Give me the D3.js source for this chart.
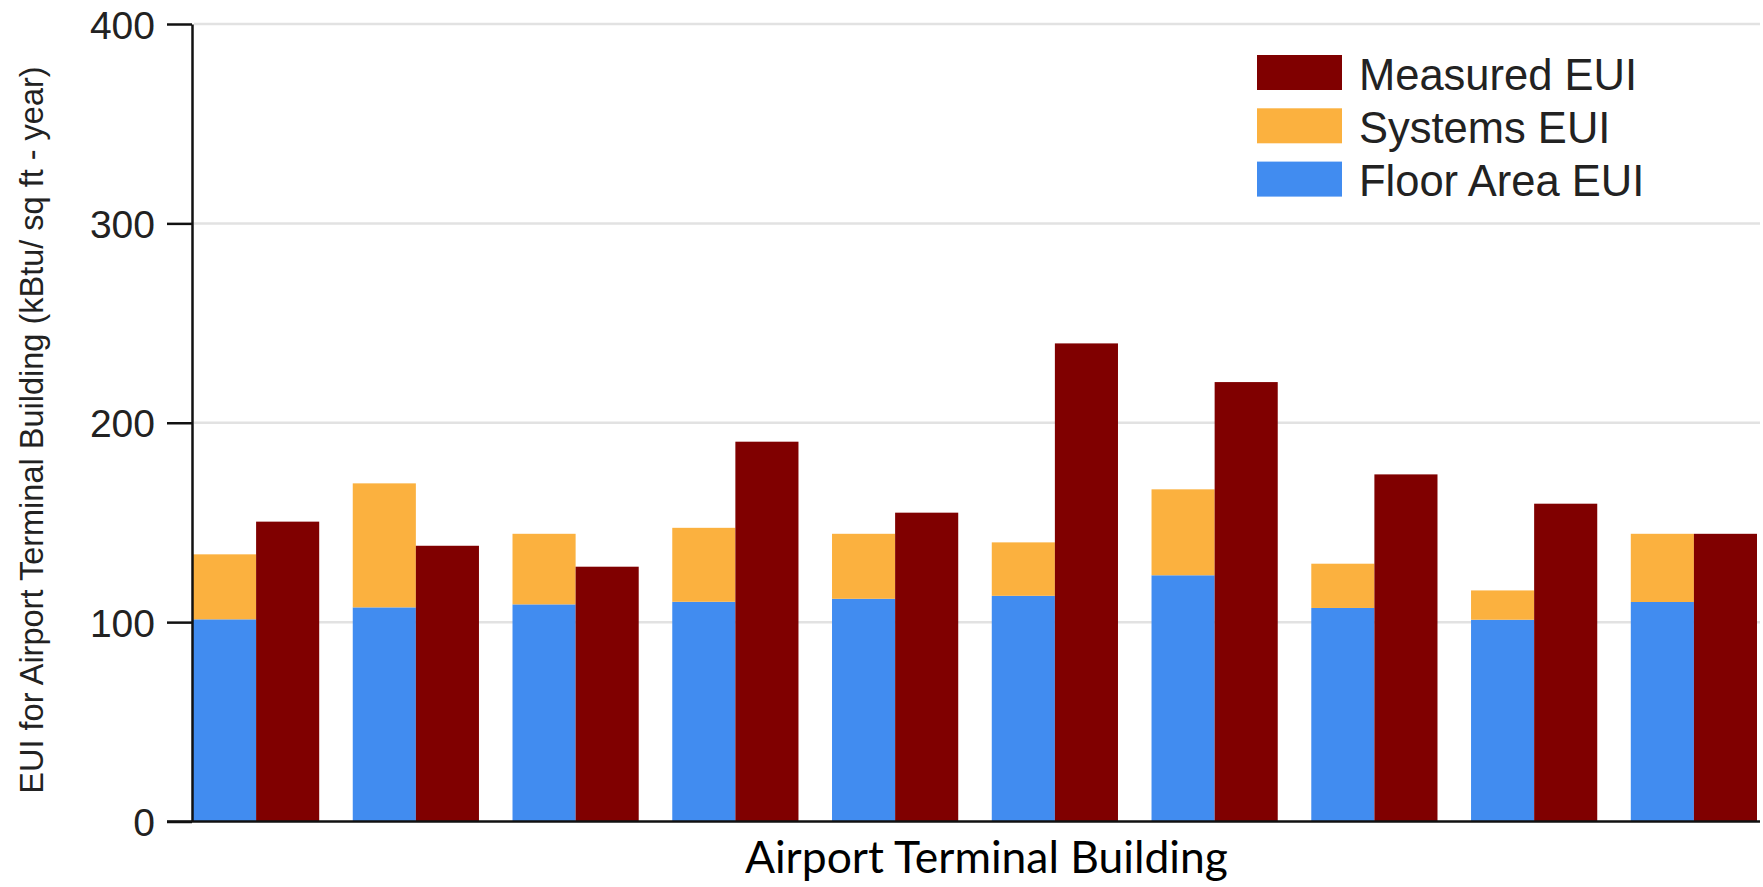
<!DOCTYPE html>
<html><head><meta charset="utf-8">
<script src="https://cdn.jsdelivr.net/npm/d3@7"></script>
<style>body{margin:0;background:#fff} svg{display:block}</style>
</head><body><svg id="c" width="1763" height="887"></svg>
<script>
// ---- data ----
const categories = ["B1","B2","B3","B4","B5","B6","B7","B8","B9","B10"];
const floorAreaEUI = [101.4, 107.4, 108.9, 110.2, 111.7, 113.2, 123.5, 107.1, 101.2, 110.1];
const systemsEUI   = [32.6, 62.2, 35.4, 37.1, 32.6, 26.8, 43.1, 22.2, 14.7, 34.2];
const measuredEUI  = [150.4, 138.3, 127.8, 190.5, 154.9, 239.8, 220.4, 174.1, 159.4, 144.3];
const yTicks = [0, 100, 200, 300, 400];
const seriesNames = ["Measured EUI", "Systems EUI", "Floor Area EUI"];
const seriesColors = ["#800000", "#fbb13f", "#418cf0"];
const yTitle = "EUI for Airport Terminal Building (kBtu/ sq ft - year)";
const xTitle = "Airport Terminal Building";

// ---- layout ----
const svg = d3.select("#c");
const plotLeft = 192, plotRight = 1760, plotTop = 24, plotBottom = 821.5;
const color = d3.scaleOrdinal().domain(seriesNames).range(seriesColors);

const x0 = d3.scaleBand().domain(categories).range([193, 1757]).paddingInner(0.21).paddingOuter(0);
const x1 = d3.scaleBand().domain(["stack", "measured"]).range([0, x0.bandwidth()]);
const y = d3.scaleLinear().domain([0, 400]).range([plotBottom, plotTop]);

// gridlines
svg.append("g").selectAll("line").data(yTicks.filter(d => d > 0)).join("line")
  .attr("x1", plotLeft + 2).attr("x2", plotRight)
  .attr("y1", d => y(d)).attr("y2", d => y(d))
  .attr("stroke", "#e2e2e2").attr("stroke-width", 2.5);

// stacked bars
const rows = categories.map((c, i) => ({cat: c, floor: floorAreaEUI[i], systems: systemsEUI[i], measured: measuredEUI[i]}));
const stacked = d3.stack().keys(["floor", "systems"])(rows);
const stackColors = {floor: color("Floor Area EUI"), systems: color("Systems EUI")};
svg.append("g").selectAll("g").data(stacked).join("g")
  .attr("fill", d => stackColors[d.key])
  .selectAll("rect").data(d => d).join("rect")
  .attr("x", d => x0(d.data.cat) + x1("stack"))
  .attr("width", x1.bandwidth())
  .attr("y", d => y(d[1]))
  .attr("height", d => y(d[0]) - y(d[1]));

// measured bars
svg.append("g").attr("fill", color("Measured EUI"))
  .selectAll("rect").data(rows).join("rect")
  .attr("x", d => x0(d.cat) + x1("measured"))
  .attr("width", x1.bandwidth())
  .attr("y", d => y(d.measured))
  .attr("height", d => y(0) - y(d.measured));

// y axis
const ya = svg.append("g").attr("transform", `translate(${plotLeft},0)`)
  .call(d3.axisLeft(y).tickValues(yTicks).tickSize(25).tickSizeOuter(0).tickPadding(12));
ya.select(".domain").attr("stroke", "#111").attr("stroke-width", 2.5);
ya.selectAll(".tick line").attr("stroke", "#111").attr("stroke-width", 2.5);
ya.selectAll(".tick text").attr("fill", "#222")
  .style("font-family", "'Liberation Sans', Arial, sans-serif").style("font-size", "39px")
  .attr("dy", "0.36em");

// x axis baseline
const xa = svg.append("g").attr("transform", `translate(0,${plotBottom})`)
  .call(d3.axisBottom(x0).tickSize(0).tickFormat(() => ""));
xa.select(".domain").attr("d", `M${plotLeft - 25},0H${plotRight}`).attr("stroke", "#111").attr("stroke-width", 2.5);

// y title
svg.append("text")
  .attr("transform", "translate(43,430) rotate(-90)")
  .attr("text-anchor", "middle")
  .attr("fill", "#222")
  .style("font-family", "'Liberation Sans', Arial, sans-serif").style("font-size", "32.5px")
  .text(yTitle);

// x title (fit to width)
const xt = svg.append("text")
  .attr("x", 986.4).attr("y", 872.7)
  .attr("text-anchor", "middle")
  .attr("fill", "#000")
  .style("font-family", "Lato, 'Open Sans', sans-serif").style("font-size", "41px")
  .text(xTitle);
const w = xt.node().getComputedTextLength();
xt.style("font-size", (41 * 483 / w) + "px");

// legend
const lg = svg.append("g").attr("transform", "translate(1257,55)");
const li = lg.selectAll("g").data(seriesNames).join("g")
  .attr("transform", (d, i) => `translate(0,${i * 53.3})`);
li.append("rect").attr("width", 85).attr("height", 35).attr("fill", d => color(d));
li.append("text").attr("x", 102).attr("y", 34.5)
  .attr("fill", "#222")
  .style("font-family", "'Liberation Sans', Arial, sans-serif").style("font-size", "43.5px")
  .text(d => d);
</script>
</body></html>
